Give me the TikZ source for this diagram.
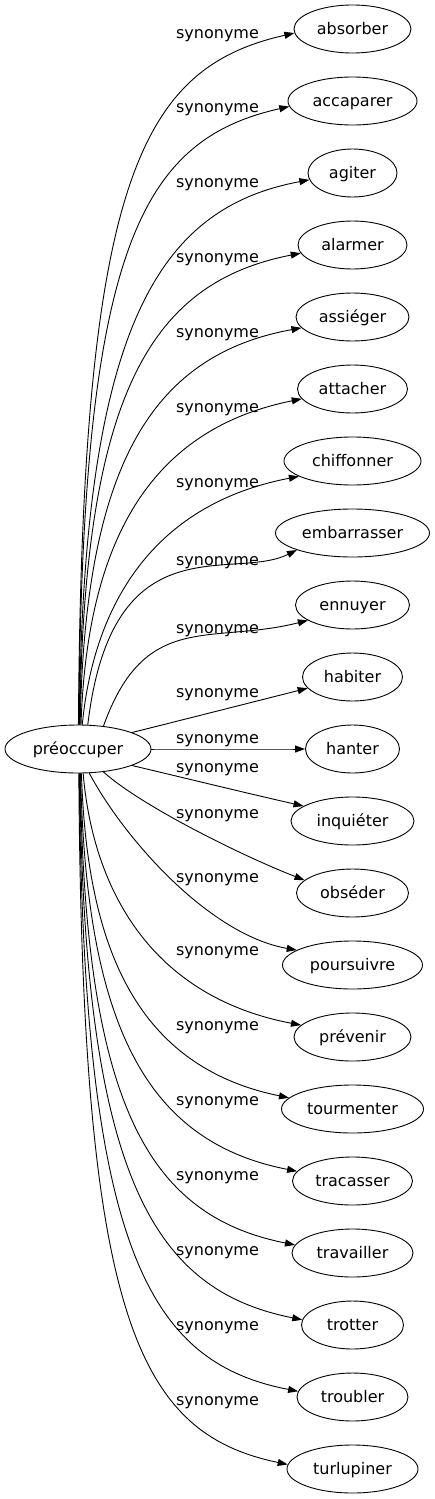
\documentclass[tikz,border=0pt]{standalone}
\usepackage{fontspec}
\setmainfont{DejaVu Sans}
\usetikzlibrary{arrows.meta,shapes.geometric}
\tikzset{
  word/.style={ellipse,draw,inner sep=0pt,minimum height=48pt,
    text height=12pt,text depth=1.5pt,font=\fontsize{16pt}{19pt}\selectfont,line width=0.9pt},
  rel/.style={-{Triangle[length=10pt,width=7pt]},line width=0.9pt},
  lab/.style={anchor=base,inner sep=0pt,font=\fontsize{16pt}{19pt}\selectfont}
}
\begin{document}
\begin{tikzpicture}[x=1pt,y=1pt]
  \useasboundingbox (0,0) rectangle (435,-1499);
  \node[word,minimum width=146pt] (pre) at (78,-749) {préoccuper};
  % synonyms, one row each
  \foreach \nm/\txt/\w [count=\i from 0] in {absorber/absorber/117,accaparer/accaparer/129,
    agiter/agiter/89,alarmer/alarmer/109,assieger/assiéger/113,attacher/attacher/110,
    chiffonner/chiffonner/137,embarrasser/embarrasser/154,ennuyer/ennuyer/114,
    habiter/habiter/100,hanter/hanter/94,inquieter/inquiéter/123,obseder/obséder/112,
    poursuivre/poursuivre/140,prevenir/prévenir/117,tourmenter/tourmenter/142,
    tracasser/tracasser/120,travailler/travailler/121,trotter/trotter/102,
    troubler/troubler/111,turlupiner/turlupiner/131}
    \node[word,minimum width=\w pt] (\nm) at (352.5,{-29-72*\i}) {\txt};
  % edges: start angle / first control / second control / end angle
  \foreach \nm/\sa/\ax/\ay/\bx/\by/\ea in {absorber/89/82/180/140/68/184,
    accaparer/88/82/250/140/140/185,agiter/87/83/325/159/208/189,
    alarmer/86/84/398/148/283/189,assieger/85/85/473/147/356/192,
    attacher/83/87/545/147/430/191,chiffonner/80/92/622/140/507/196,
    embarrasser/68/112/520/232/582/197,ennuyer/42/145/610/210/645/199,
    habiter/17/190/718/249/703/194,hanter/0/200/749/250/749/180,
    inquieter/-17/189/779/246/793/163,obseder/-42/140/805/240/855/165,
    poursuivre/-65/125/840/210/935/165,prevenir/-78/92/880/144/995/167,
    tourmenter/-82/87/952/139/1067/170,tracasser/-84/86/1027/147/1142/170,
    travailler/-85/85/1100/145/1215/172,trotter/-86/84/1175/152/1290/174,
    troubler/-87/83/1247/147/1362/174,turlupiner/-88/82/1318/137/1433/176}
    \draw[rel] (pre.\sa) .. controls (\ax,-\ay) and (\bx,-\by) .. (\nm.\ea);
  % edge labels
  \foreach \y [count=\i] in {33,107,182,257,332,407,482,560,628,692,738,
    767,813,877,950,1025,1100,1175,1250,1325,1400}
    \node[lab] (lab\i) at (217.5,{-\y-5}) {synonyme};
\end{tikzpicture}
\end{document}
